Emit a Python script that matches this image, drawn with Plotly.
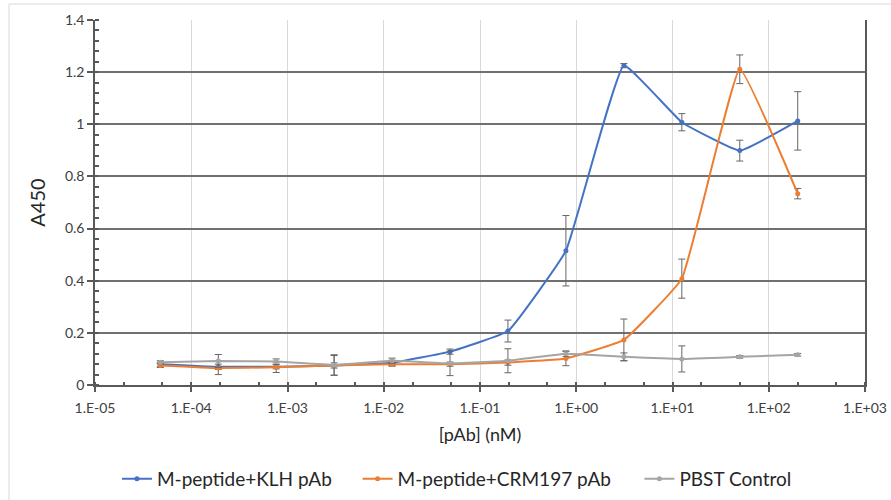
import plotly.graph_objects as go

conc = [4.77e-5, 1.91e-4, 7.63e-4, 3.05e-3, 1.22e-2, 4.88e-2, 0.195, 0.781, 3.125, 12.5, 50, 200]

klh = [0.080, 0.070, 0.070, 0.075, 0.085, 0.128, 0.207, 0.515, 1.225, 1.008, 0.899, 1.013]
klh_err = [0.008, 0.010, 0.008, 0.010, 0.010, 0.010, 0.042, 0.135, 0.008, 0.033, 0.040, 0.112]

crm = [0.075, 0.065, 0.068, 0.075, 0.080, 0.080, 0.086, 0.102, 0.173, 0.408, 1.211, 0.734]
crm_err = [0.008, 0.025, 0.020, 0.038, 0.008, 0.008, 0.010, 0.028, 0.080, 0.075, 0.055, 0.020]

pbst = [0.087, 0.092, 0.090, 0.077, 0.093, 0.083, 0.093, 0.120, 0.108, 0.100, 0.108, 0.116]
pbst_err = [0.006, 0.025, 0.010, 0.039, 0.010, 0.047, 0.046, 0.010, 0.015, 0.050, 0.005, 0.005]

names = ["M-peptide+KLH pAb", "M-peptide+CRM197 pAb", "PBST Control"]
colors = ["#4472C4", "#ED7D31", "#A5A5A5"]
legend_ids = ["legend", "legend2", "legend3"]

xtick_vals = [1e-5, 1e-4, 1e-3, 1e-2, 1e-1, 1e0, 1e1, 1e2, 1e3]
xtick_text = ["1.E-05", "1.E-04", "1.E-03", "1.E-02", "1.E-01", "1.E+00", "1.E+01", "1.E+02", "1.E+03"]
ytick_vals = [0, 0.2, 0.4, 0.6, 0.8, 1.0, 1.2, 1.4]
ytick_text = ["0", "0.2", "0.4", "0.6", "0.8", "1", "1.2", "1.4"]

FONT = "Lato, Carlito, Calibri, sans-serif"

fig = go.Figure()
for ys, es, nm, col, lg in zip([klh, crm, pbst], [klh_err, crm_err, pbst_err], names, colors, legend_ids):
    fig.add_trace(go.Scatter(
        x=conc, y=ys, name=nm, mode="lines+markers", legend=lg,
        line=dict(color=col, width=2, shape="spline", smoothing=0.3),
        marker=dict(color=col, size=5, symbol="circle"),
        error_y=dict(type="data", array=es, visible=True, color="#666666", thickness=1, width=3.5),
    ))

leg_common = dict(orientation="h", xanchor="left", y=-0.257, yanchor="middle",
                  font=dict(size=19, color="#262626"), itemwidth=30, bgcolor="rgba(0,0,0,0)")

fig.update_layout(
    width=891, height=500,
    paper_bgcolor="white", plot_bgcolor="white",
    margin=dict(l=95, r=26, t=20, b=115, autoexpand=False),
    font=dict(family=FONT, color="#404040"),
    showlegend=True,
    legend=dict(x=0.0285, **leg_common),
    legend2=dict(x=0.341, **leg_common),
    legend3=dict(x=0.707, **leg_common),
    shapes=[dict(type="rect", xref="paper", yref="paper", x0=-0.1117, x1=1.2, y0=-0.6, y1=1.0438,
                 line=dict(color="#d9d9d9", width=1), layer="below")],
)

fig.update_xaxes(
    type="log", range=[-5, 3],
    tickvals=xtick_vals, ticktext=xtick_text,
    tickfont=dict(size=14, color="#404040"),
    ticklabelstandoff=4,
    showgrid=True, gridcolor="#d9d9d9", gridwidth=1,
    showline=True, linecolor="#595959", linewidth=1.5,
    ticks="outside", ticklen=5, tickcolor="#595959", tickwidth=1.5,
    minor=dict(ticks="inside", ticklen=3, tickcolor="#595959", showgrid=False),
    title=dict(text="[pAb] (nM)", font=dict(size=18, color="#262626"), standoff=14),
    zeroline=False,
)
fig.update_yaxes(
    range=[0, 1.4],
    tickvals=ytick_vals, ticktext=ytick_text,
    tickfont=dict(size=14, color="#404040"),
    showgrid=True, gridcolor="#707070", gridwidth=1.5,
    showline=True, linecolor="#595959", linewidth=1.5, mirror=True,
    ticks="outside", ticklen=6, tickcolor="#595959", tickwidth=1.5,
    minor=dict(ticks="inside", ticklen=4, dtick=0.04, tickcolor="#595959", showgrid=False),
    title=dict(text="A450", font=dict(size=20, color="#262626"), standoff=14),
    zeroline=False,
)

fig.write_html("out.html")
